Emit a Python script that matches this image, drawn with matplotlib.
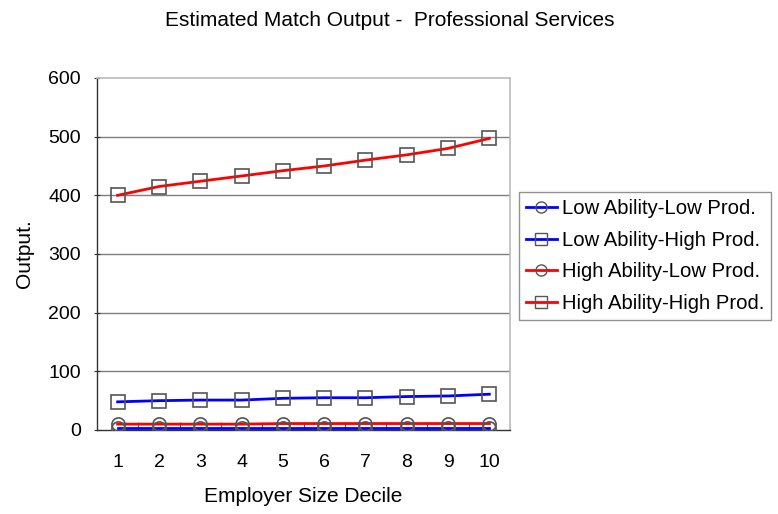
import matplotlib
matplotlib.use("Agg")
import matplotlib.pyplot as plt
from matplotlib.lines import Line2D

plt.rcParams['font.family'] = ['Liberation Sans', 'DejaVu Sans']

deciles = [1, 2, 3, 4, 5, 6, 7, 8, 9, 10]
low_low = [3, 3, 3, 3, 3, 3, 3, 3, 3, 3]
low_high = [48, 50, 51, 51, 54, 55, 55, 57, 58, 61]
high_low = [10, 10, 10, 10, 11, 11, 11, 11, 11, 11]
high_high = [400, 415, 424, 433, 442, 450, 460, 469, 480, 497]
series_names = ["Low Ability-Low Prod.", "Low Ability-High Prod.",
                "High Ability-Low Prod.", "High Ability-High Prod."]
yticks = [0, 100, 200, 300, 400, 500, 600]

fig = plt.figure(figsize=(7.78, 5.14), dpi=100)
ax = fig.add_axes([97/778, 84/514, 413/778, 352/514])

series = [(low_low, '#0000ff', 'o'), (low_high, '#0000ff', 's'),
          (high_low, '#ff0000', 'o'), (high_high, '#ff0000', 's')]
handles = []
for (vals, col, mk), name in zip(series, series_names):
    ax.plot(deciles, vals, color=col, lw=2.0, zorder=3)
    ax.plot(deciles, vals, ls='none', marker=mk, ms=10 if mk == 's' else 9.5,
            mfc='none', mec='#555555', mew=1.2, zorder=4)
    handles.append(Line2D([], [], color=col, lw=2.0, marker=mk, ms=8,
                          mfc='none', mec='#555555', mew=1.0))

FS = 15
ax.set_xlim(0.5, 10.5)
ax.set_ylim(0, 600)
ax.set_yticks(yticks)
ax.set_xticks(deciles)
ax.set_xticks([d + 0.5 for d in deciles[:-1]], minor=True)
ax.tick_params(axis='x', which='major', length=0, pad=17, labelsize=14)
ax.tick_params(axis='x', which='minor', length=6, direction='in', color='#333333')
ax.tick_params(axis='y', length=5, direction='inout', pad=9, labelsize=14, color='#333333')
for y in yticks[1:-1]:
    ax.axhline(y, color='#7f7f7f', lw=1.0, zorder=1)

for s in ['top', 'right']:
    ax.spines[s].set_color('#bbbbbb')
    ax.spines[s].set_linewidth(1.2)
for s in ['left', 'bottom']:
    ax.spines[s].set_color('#333333')
    ax.spines[s].set_linewidth(1.0)

ax.set_xlabel("Employer Size Decile", fontsize=FS, labelpad=12)
ax.set_ylabel("Output.", fontsize=FS, labelpad=10)
fig.text(390/778, 1 - 20/514, "Estimated Match Output -  Professional Services",
         ha='center', va='center', fontsize=FS)

leg = fig.legend(handles, series_names, loc='center left',
                 bbox_to_anchor=(519/778, 1 - 256/514), fontsize=14.6,
                 frameon=True, fancybox=False, edgecolor='#777777',
                 handlelength=1.5, handletextpad=0.25, borderpad=0.35,
                 labelspacing=0.62, borderaxespad=0)
leg.get_frame().set_linewidth(1.0)

fig.savefig("out.png", dpi=100)
